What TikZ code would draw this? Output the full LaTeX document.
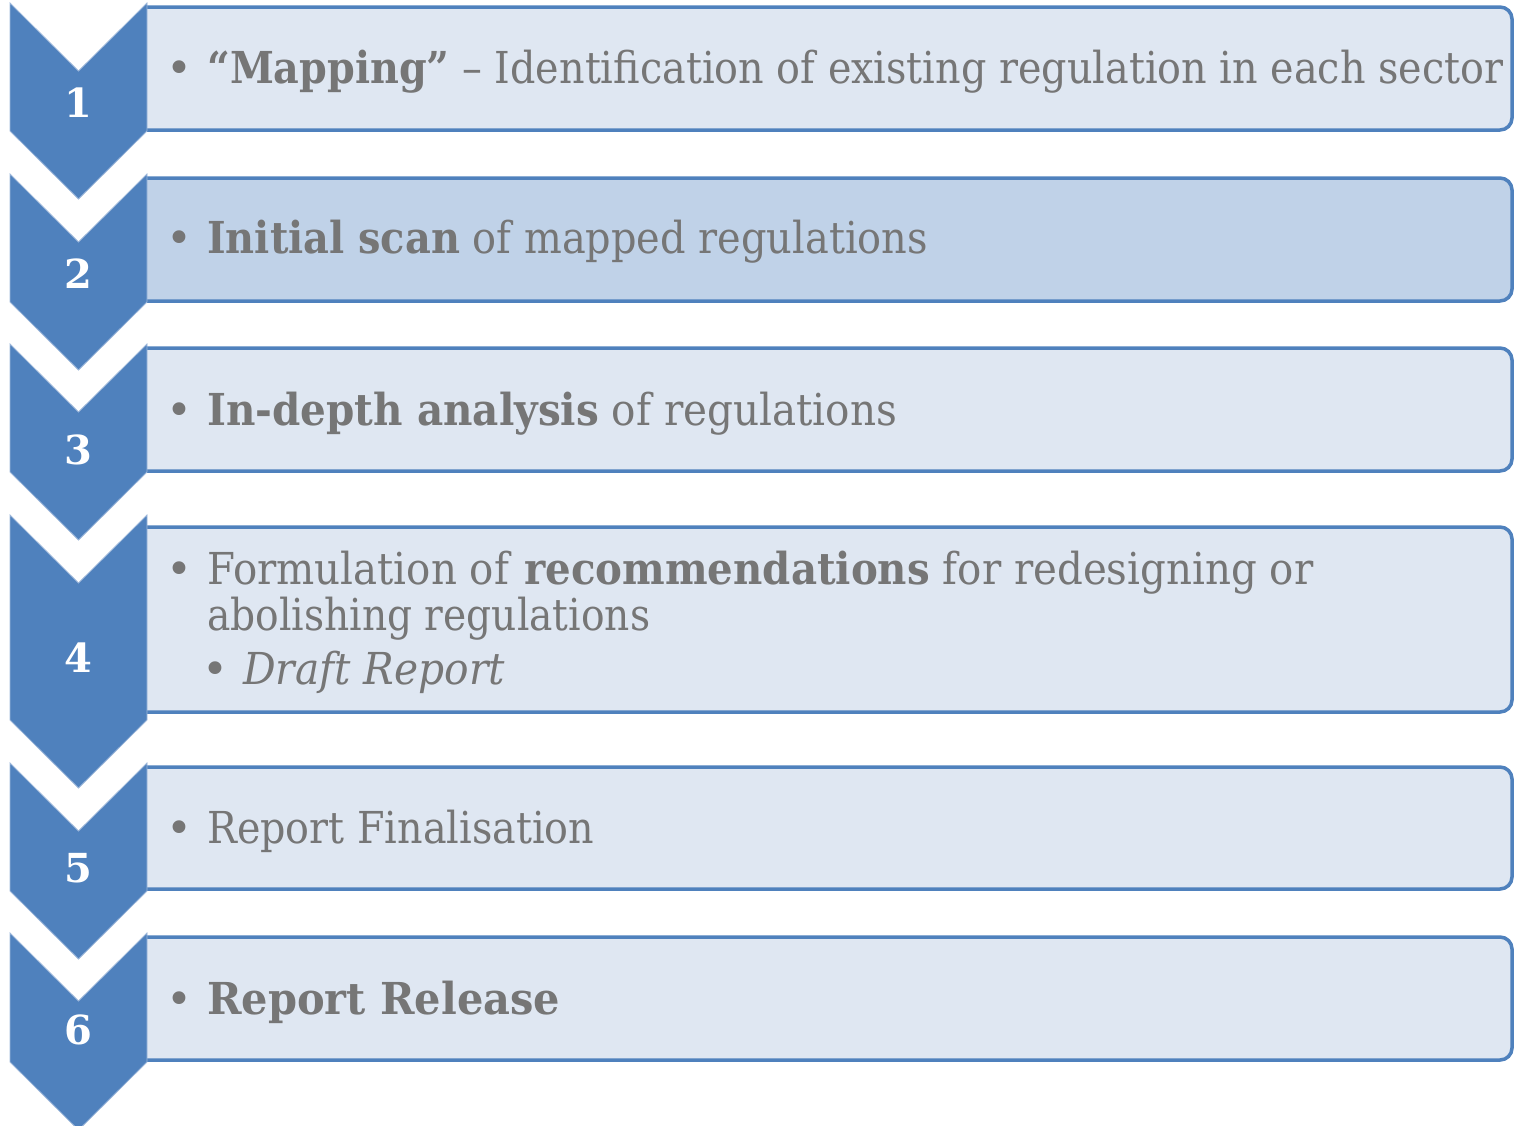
\documentclass[tikz,border=0pt]{standalone}
\usepackage{fontspec}
\setmainfont{DejaVu Serif}
\usepackage{graphicx}
\definecolor{chev}{HTML}{4F81BD}
\definecolor{chevline}{HTML}{9DB7DA}
\definecolor{boxlight}{HTML}{DFE7F2}
\definecolor{boxdark}{HTML}{C0D2E8}
\definecolor{txt}{HTML}{767676}
\newcommand\fitto[2]{\resizebox{#1pt}{\height}{#2}}
\newcommand\chevshape[2]{\path[chevron] (10,#1) -- (78.5,{#1+68}) -- (147,#1) -- (147,#2) -- (78.5,{#2+68}) -- (10,#2) -- cycle;}
\begin{document}
\begin{tikzpicture}[x=1pt,y=-1pt,
  chevron/.style={fill=chev, draw=chevline, line width=0.8pt, line join=miter},
  stepbox/.style={fill=boxlight, draw=chev, line width=3.5pt, rounded corners=12pt},
  num/.style={text=white, font=\fontsize{40}{40}\selectfont\bfseries, inner sep=0pt, anchor=center},
  item/.style={text=txt, font=\fontsize{44}{52}\selectfont, inner sep=0pt, anchor=base west},
  bul/.style={text=txt, font=\fontsize{44}{52}\selectfont, inner sep=0pt, anchor=base}]
\useasboundingbox (0,0) rectangle (1514,1125);
\clip (0,0) rectangle (1514,1125);
% boxes
\path[stepbox] (147,7) -- (1512,7) -- (1512,130) -- (147,130);
\path[stepbox, fill=boxdark] (147,178) -- (1512,178) -- (1512,301) -- (147,301);
\path[stepbox] (147,348) -- (1512,348) -- (1512,471) -- (147,471);
\path[stepbox] (147,527) -- (1512,527) -- (1512,712) -- (147,712);
\path[stepbox] (147,767) -- (1512,767) -- (1512,889) -- (147,889);
\path[stepbox] (147,937) -- (1512,937) -- (1512,1060) -- (147,1060);
% chevrons
\chevshape{3}{131}
\chevshape{174}{302}
\chevshape{344}{472}
\chevshape{515}{720}
\chevshape{763}{891}
\chevshape{933}{1062}
% numbers
\node[num] (n1) at (78.5,103) {1};
\node[num] (n2) at (78.5,274) {2};
\node[num] (n3) at (78.5,450) {3};
\node[num] (n4) at (78.5,658) {4};
\node[num] (n5) at (78.5,868) {5};
\node[num] (n6) at (78.5,1030) {6};
% bullets
\node[bul] (b1) at (179,83) {•};
\node[bul] (b2) at (179,253) {•};
\node[bul] (b3) at (179,425) {•};
\node[bul] (b4) at (179,584) {•};
\node[bul] (b4s) at (215,684) {•};
\node[bul] (b5) at (179,843) {•};
\node[bul] (b6) at (179,1014) {•};
% texts
\node[item] (t1) at (207,83) {\fitto{1296}{\textbf{“Mapping”} – Identification of existing regulation in each sector}};
\node[item] (t2) at (207,253) {\fitto{721}{\textbf{Initial scan} of mapped regulations}};
\node[item] (t3) at (207,425) {\fitto{690}{\textbf{In-depth analysis} of regulations}};
\node[item] (t4a) at (207,584) {\fitto{1106}{Formulation of \textbf{recommendations} for redesigning or}};
\node[item] (t4b) at (207,630) {\fitto{443}{abolishing regulations}};
\node[item] (t4c) at (243,684) {\fitto{262}{\textit{Draft Report}}};
\node[item] (t5) at (207,843) {\fitto{387}{Report Finalisation}};
\node[item] (t6) at (207,1014) {\fitto{353}{\textbf{Report Release}}};
\end{tikzpicture}
\end{document}
